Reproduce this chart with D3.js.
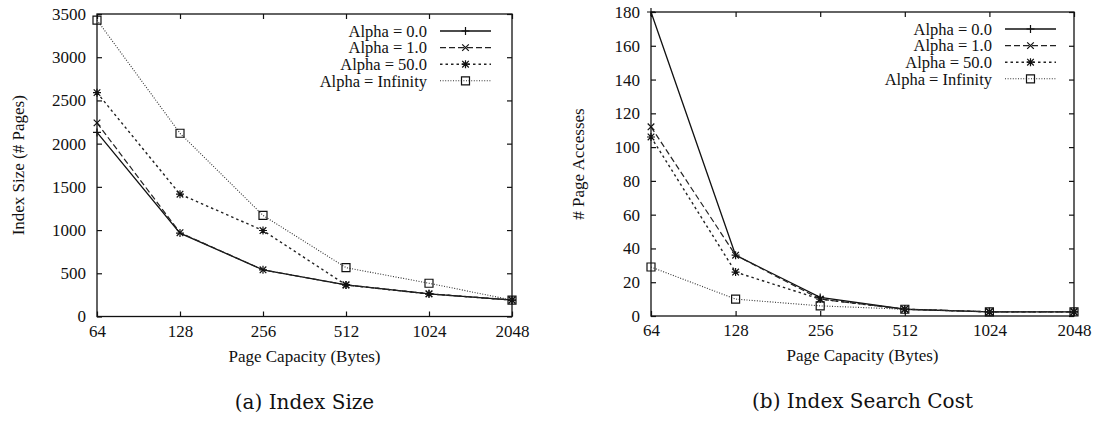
<!DOCTYPE html>
<html>
<head>
<meta charset="utf-8">
<script src="https://cdn.jsdelivr.net/npm/d3@7"></script>
<style>
  html, body { margin: 0; padding: 0; background: #fff; }
  svg text { font-family: "Liberation Serif", "Times New Roman", serif; fill: #111; }
  .caption { font-family: "DejaVu Serif", "Liberation Serif", serif; }
</style>
</head>
<body>
<svg id="chart" width="1104" height="424"></svg>
<script>
// Page capacities (bytes) shared by both panels
const capacities = [64, 128, 256, 512, 1024, 2048];
const xTickLabels = ["64", "128", "256", "512", "1024", "2048"];

const seriesNames = ["Alpha = 0.0", "Alpha = 1.0", "Alpha = 50.0", "Alpha = Infinity"];

// (a) Index size, in pages
const sizeAlpha0   = [2130, 965, 540, 365, 262, 190];
const sizeAlpha1   = [2240, 970, 540, 365, 262, 190];
const sizeAlpha50  = [2590, 1415, 995, 365, 262, 190];
const sizeAlphaInf = [3430, 2120, 1170, 565, 385, 190];
const sizeTicks = [0, 500, 1000, 1500, 2000, 2500, 3000, 3500];

// (b) Index search cost, in page accesses
const costAlpha0   = [180, 36, 11, 4, 2.5, 2.5];
const costAlpha1   = [112, 36, 10, 4, 2.5, 2.5];
const costAlpha50  = [106, 26, 10, 4, 2.5, 2.5];
const costAlphaInf = [29, 10, 6, 4, 2.5, 2.5];
const costTicks = [0, 20, 40, 60, 80, 100, 120, 140, 160, 180];

// line and marker style per series
const styles = [
  { dash: null,    marker: "plus",     width: 1.3, color: "#111" },
  { dash: "6,3",   marker: "cross",    width: 1.2, color: "#222" },
  { dash: "2.5,3", marker: "asterisk", width: 1.4, color: "#222" },
  { dash: "1,1.6", marker: "square",   width: 1.1, color: "#333" }
];

function markerPath(kind) {
  const p = d3.path();
  const s = 4, c = 3.3;
  if (kind === "plus" || kind === "asterisk") {
    p.moveTo(-s, 0); p.lineTo(s, 0); p.moveTo(0, -s); p.lineTo(0, s);
  }
  if (kind === "cross" || kind === "asterisk") {
    p.moveTo(-c, -c); p.lineTo(c, c); p.moveTo(-c, c); p.lineTo(c, -c);
  }
  if (kind === "square") {
    p.rect(-4, -4, 8, 8);
  }
  return p.toString();
}

const svg = d3.select("#chart");

function drawPanel(cfg) {
  const { left, right, top, bottom, yMax, yTicks, series, yLabel, caption } = cfg;
  const g = svg.append("g");

  const x = d3.scaleLog().base(2).domain([capacities[0], capacities[capacities.length - 1]]).range([left, right]);
  const y = d3.scaleLinear().domain([0, yMax]).range([bottom, top]);

  // frame
  g.append("rect")
    .attr("x", left).attr("y", top)
    .attr("width", right - left).attr("height", bottom - top)
    .attr("fill", "none").attr("stroke", "#111").attr("stroke-width", 1.3);

  const tickLen = 5;
  const fmt = (d, i) => xTickLabels[i];

  // bottom axis with labels, ticks pointing inward
  const xb = g.append("g").attr("transform", `translate(0,${bottom})`)
    .call(d3.axisBottom(x).tickValues(capacities).tickFormat(fmt)
      .tickSizeInner(-tickLen).tickSizeOuter(0).tickPadding(8));
  // top mirror ticks
  const xt = g.append("g").attr("transform", `translate(0,${top})`)
    .call(d3.axisTop(x).tickValues(capacities).tickFormat("")
      .tickSizeInner(-tickLen).tickSizeOuter(0));
  // left axis with labels
  const yl = g.append("g").attr("transform", `translate(${left},0)`)
    .call(d3.axisLeft(y).tickValues(yTicks).tickFormat(d3.format("d"))
      .tickSizeInner(-tickLen).tickSizeOuter(0).tickPadding(11));
  // right mirror ticks
  const yr = g.append("g").attr("transform", `translate(${right},0)`)
    .call(d3.axisRight(y).tickValues(yTicks).tickFormat("")
      .tickSizeInner(-tickLen).tickSizeOuter(0));

  [xb, xt, yl, yr].forEach(a => {
    a.select(".domain").remove();
    a.selectAll("line").attr("stroke", "#111").attr("stroke-width", 1.2);
    a.selectAll("text").style("font-family", "Liberation Serif").style("font-size", "17px").attr("fill", "#111");
  });

  // series lines and point markers
  const line = d3.line().x((d, i) => x(capacities[i])).y(d => y(d));
  series.forEach((vals, k) => {
    const st = styles[k];
    g.append("path").datum(vals)
      .attr("d", line).attr("fill", "none")
      .attr("stroke", st.color).attr("stroke-width", st.width)
      .attr("stroke-dasharray", st.dash);
    g.selectAll(null).data(vals).enter().append("path")
      .attr("transform", (d, i) => `translate(${x(capacities[i])},${y(d)})`)
      .attr("d", markerPath(st.marker))
      .attr("fill", "none").attr("stroke", "#111").attr("stroke-width", 1.2);
  });

  // legend
  const legX = cfg.legendTextRight, legY = top + 17, rowH = 16.6;
  seriesNames.forEach((name, k) => {
    const st = styles[k];
    const yy = legY + k * rowH;
    g.append("text").attr("x", legX).attr("y", yy).attr("dy", "0.35em")
      .attr("text-anchor", "end").style("font-size", "16.5px").text(name);
    const x0 = legX + 13, x1 = legX + 64;
    g.append("line").attr("x1", x0).attr("x2", x1).attr("y1", yy).attr("y2", yy)
      .attr("stroke", st.color).attr("stroke-width", st.width).attr("stroke-dasharray", st.dash);
    g.append("path").attr("transform", `translate(${(x0 + x1) / 2},${yy})`)
      .attr("d", markerPath(st.marker))
      .attr("fill", "none").attr("stroke", "#111").attr("stroke-width", 1.2);
  });

  // axis titles
  g.append("text").attr("x", (left + right) / 2).attr("y", bottom + 45)
    .attr("text-anchor", "middle").style("font-size", "17px").text("Page Capacity (Bytes)");
  g.append("text")
    .attr("transform", `translate(${cfg.yLabelX},${(top + bottom) / 2}) rotate(-90)`)
    .attr("text-anchor", "middle").attr("dy", "0.35em").style("font-size", "17px").text(yLabel);

  // sub-figure caption
  g.append("text").attr("class", "caption")
    .attr("x", (left + right) / 2).attr("y", bottom + 92)
    .attr("text-anchor", "middle").style("font-size", "20px").text(caption);
}

drawPanel({
  left: 97, right: 512, top: 14, bottom: 316.5,
  yMax: 3500, yTicks: sizeTicks,
  series: [sizeAlpha0, sizeAlpha1, sizeAlpha50, sizeAlphaInf],
  yLabel: "Index Size (# Pages)", yLabelX: 18,
  legendTextRight: 427,
  caption: "(a) Index Size"
});

drawPanel({
  left: 651, right: 1074, top: 12, bottom: 316,
  yMax: 180, yTicks: costTicks,
  series: [costAlpha0, costAlpha1, costAlpha50, costAlphaInf],
  yLabel: "# Page Accesses", yLabelX: 578,
  legendTextRight: 992,
  caption: "(b) Index Search Cost"
});
</script>
</body>
</html>
